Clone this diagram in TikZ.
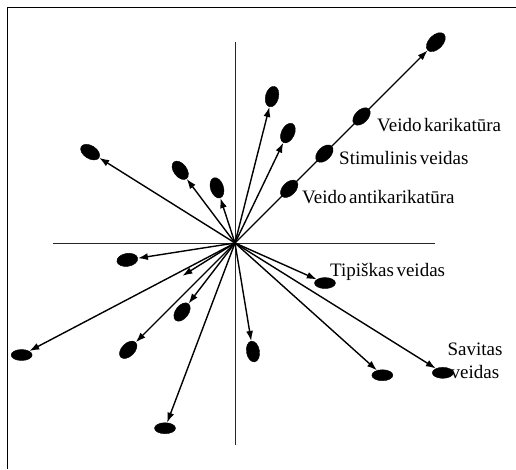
\documentclass[tikz,border=0pt]{standalone}
\usepackage{fontspec}
\setmainfont{Liberation Serif}[WordSpace=0.55]
\usetikzlibrary{calc,arrows.meta,shapes}
\tikzset{
    blob/.style = {draw, ellipse, fill=black, inner sep=0pt,
        minimum width=21pt, minimum height=13pt},
    flatblob/.style = {blob, minimum height=11pt},
    ray/.style = {draw, ->, line width=1.4pt},
    axisline/.style = {draw, line width=1pt, black!85},
    tag/.style = {anchor=west, inner sep=0pt, font=\fontsize{19}{23}\selectfont}
}

\begin{document}
\begin{tikzpicture}[x=1pt, y=1pt, >={Latex[length=10pt,width=7pt]}]
        \useasboundingbox (0,0) rectangle (516,469);
        \draw[line width=1pt] (7,0) -- (7,461) -- (516,461);
        \coordinate (o) at (235,226);
        % axes
        \coordinate (ytop) at (235,427);
        \coordinate (ybot) at (235,24);
        \coordinate (xleft) at (53,226);
        \coordinate (xright) at (435,226);
        \draw[axisline] (ytop) -- (ybot);
        \draw[axisline] (xleft) -- (xright);
        % faces along their own direction
        \foreach \a/\r [count=\i] in {75.8/151, 64.3/122, 147.9/171, 127/91, 108.1/58, 188.9/109, 232.5/87, 225/151, 279.4/110}{
            \node [blob, rotate=\a] (s\i) at ($(o)+(\a:\r)$) {};
            \draw [ray] (o) -- (s\i);
        }
        % flat faces
        \foreach \a/\r [count=\i] in {207.7/241, 249.3/198, 336/98.5, 318.1/198, 328/245}{
            \node [flatblob] (f\i) at ($(o)+(\a:\r)$) {};
            \draw [ray] (o) -- (f\i);
        }
        \coordinate (e) at ($(o)+(212:62)$);
        \draw [ray] (o) -- (e);
        % caricature line
        \node [blob, rotate=45, minimum width=23pt, minimum height=14pt] (far) at ($(o)+(45:284)$) {};
        \draw [ray] (o) -- (far);
        \node [blob, rotate=45] (anti) at ($(o)!0.27!(far)$) {};
        \node [blob, rotate=45] (stim) at ($(o)!0.445!(far)$) {};
        \node [blob, rotate=45] (kar) at ($(o)!0.63!(far)$) {};
        % labels
        \node [tag] (lkar) at (377,344) {Veido karikatūra};
        \node [tag] (lstim) at (339,311) {Stimulinis veidas};
        \node [tag] (lanti) at (302,272) {Veido antikarikatūra};
        \node [tag] (ltip) at (330,197) {Tipiškas veidas};
        \node [tag, anchor=center, align=center] (lsav) at (475,108) {Savitas\\veidas};
\end{tikzpicture}
\end{document}
